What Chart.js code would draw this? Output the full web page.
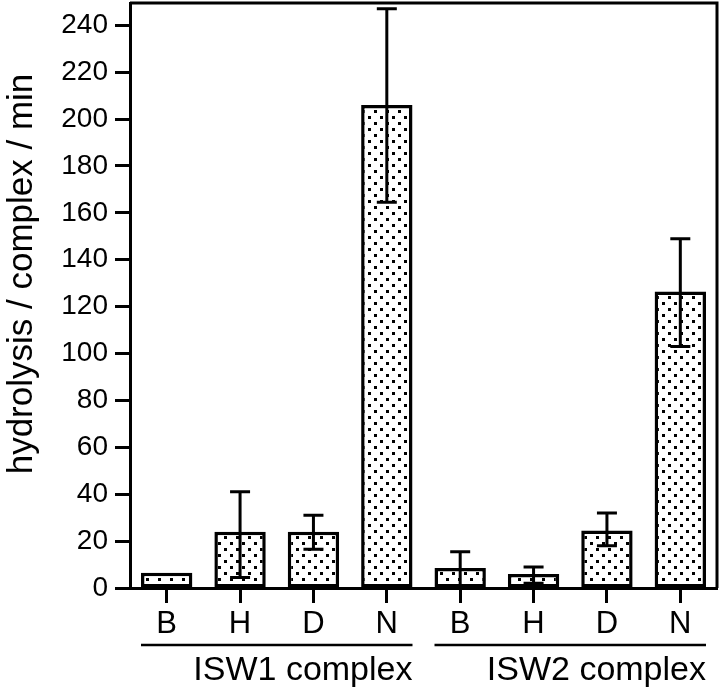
<!DOCTYPE html>
<html>
<head>
  <title>ATP hydrolysis by ISW1 and ISW2</title>
  <script src="https://cdn.jsdelivr.net/npm/chart.js"></script>
  <style>
    body { margin: 0; background: #fff; }
  </style>
</head>
<body>
  <canvas id="atpChart" width="720" height="687"></canvas>

  <script>
    // values
    const categories = ['B', 'H', 'D', 'N', 'B', 'H', 'D', 'N'];
    const rates = [6.5, 24, 24, 206, 8.5, 6, 24.5, 126.5];
    const errHigh = [null, 41, 31, 247, 15.5, 9, 32, 149];
    const errLow = [null, 4.5, 16.5, 164.5, 1, 2, 18, 103];
    const yTicks = [0, 20, 40, 60, 80, 100, 120, 140, 160, 180, 200, 220, 240];
    const groupNames = ['ISW1 complex', 'ISW2 complex'];
    const groupFirst = [0, 4];
    const groupLast = [3, 7];
    const yTitle = 'hydrolysis / complex / min';

    const FONT = 'Liberation Sans, Arial, sans-serif';
    Chart.defaults.font.family = FONT;
    Chart.defaults.color = '#000';

    // dotted fill like the printed figure
    function stipple() {
      const tile = document.createElement('canvas');
      tile.width = 12;
      tile.height = 12;
      const t = tile.getContext('2d');
      t.fillStyle = '#fff';
      t.fillRect(0, 0, 12, 12);
      t.fillStyle = '#000';
      t.fillRect(2, 2, 3, 3);
      t.fillRect(8, 8, 3, 3);
      return t.createPattern(tile, 'repeat');
    }

    const extras = {
      id: 'extras',
      afterDatasetsDraw(chart) {
        const ctx = chart.ctx;
        const y = chart.scales.y;
        const bars = chart.getDatasetMeta(0).data;
        ctx.save();
        ctx.strokeStyle = '#000';
        ctx.lineWidth = 3;
        bars.forEach((bar, i) => {
          if (errHigh[i] == null) return;
          const yh = y.getPixelForValue(errHigh[i]);
          const yl = y.getPixelForValue(errLow[i]);
          ctx.beginPath();
          ctx.moveTo(bar.x, yh);
          ctx.lineTo(bar.x, yl);
          ctx.moveTo(bar.x - 10, yh);
          ctx.lineTo(bar.x + 10, yh);
          ctx.moveTo(bar.x - 10, yl);
          ctx.lineTo(bar.x + 10, yl);
          ctx.stroke();
        });
        ctx.restore();
      },
      afterDraw(chart) {
        const ctx = chart.ctx;
        const a = chart.chartArea;
        const bars = chart.getDatasetMeta(0).data;
        ctx.save();
        ctx.strokeStyle = '#000';
        ctx.fillStyle = '#000';

        // frame top and right
        ctx.lineWidth = 3;
        ctx.beginPath();
        ctx.moveTo(a.left, a.top);
        ctx.lineTo(a.right, a.top);
        ctx.lineTo(a.right, a.bottom);
        ctx.stroke();

        // group lines and names under the categories
        ctx.font = '34px ' + FONT;
        ctx.textAlign = 'right';
        ctx.textBaseline = 'alphabetic';
        groupNames.forEach((name, g) => {
          const b0 = bars[groupFirst[g]];
          const b1 = bars[groupLast[g]];
          const x0 = b0.x - b0.width / 2;
          const x1 = b1.x + b1.width / 2;
          ctx.lineWidth = 2.5;
          ctx.beginPath();
          ctx.moveTo(x0, 645);
          ctx.lineTo(x1, 645);
          ctx.stroke();
          ctx.fillText(name, x1, 680);
        });

        // y axis title
        ctx.font = '35px ' + FONT;
        ctx.textAlign = 'center';
        ctx.textBaseline = 'middle';
        ctx.translate(22, 274);
        ctx.rotate(-Math.PI / 2);
        ctx.fillText(yTitle, 0, 0);
        ctx.restore();
      }
    };

    new Chart(document.getElementById('atpChart'), {
      type: 'bar',
      data: {
        labels: categories,
        datasets: [{
          data: rates,
          backgroundColor: stipple(),
          borderColor: '#000',
          borderWidth: 3.5,
          borderSkipped: false,
          barPercentage: 0.7,
          categoryPercentage: 1
        }]
      },
      options: {
        responsive: false,
        animation: false,
        layout: { padding: { top: 3, right: 3, left: 0, bottom: 0 } },
        plugins: {
          legend: { display: false },
          tooltip: { enabled: false }
        },
        scales: {
          x: {
            afterFit: s => {
              s.height = 99;
              s.paddingLeft = 0;
              s.paddingRight = 0;
            },
            grid: {
              offset: false,
              drawOnChartArea: false,
              tickLength: 15,
              tickWidth: 3,
              tickColor: '#000'
            },
            border: { display: true, color: '#000', width: 3 },
            ticks: { font: { size: 31 }, padding: 3, color: '#000' }
          },
          y: {
            min: 0,
            max: 249.5,
            afterFit: s => {
              s.width = 130;
              s.paddingTop = 0;
              s.paddingBottom = 0;
            },
            afterBuildTicks: s => { s.ticks = yTicks.map(v => ({ value: v })); },
            grid: {
              drawOnChartArea: false,
              tickLength: 15,
              tickWidth: 3,
              tickColor: '#000'
            },
            border: { display: true, color: '#000', width: 3 },
            ticks: { font: { size: 28 }, padding: 7, color: '#000' }
          }
        }
      },
      plugins: [extras]
    });
  </script>
</body>
</html>
